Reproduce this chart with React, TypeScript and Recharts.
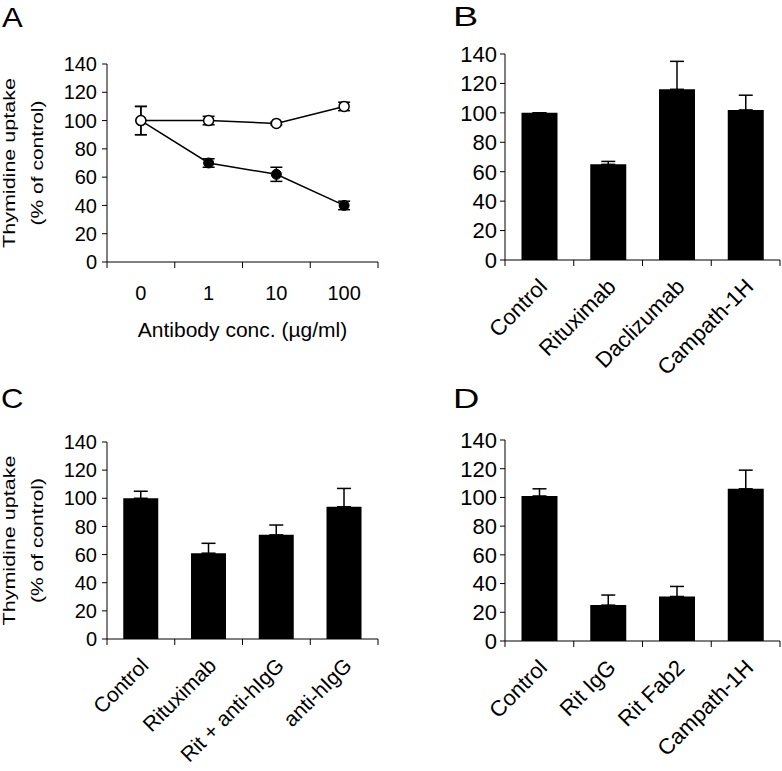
import React from "react";
import {
  BarChart,
  Bar,
  ComposedChart,
  Line,
  XAxis,
  YAxis,
  ErrorBar,
} from "recharts";

// ---------------------------------------------------------------------------
// Data
// ---------------------------------------------------------------------------

const yTicks = [0, 20, 40, 60, 80, 100, 120, 140];

// A: thymidine uptake vs antibody concentration
const concLabels = ["0", "1", "10", "100"];
const openMean = [100, 100, 98, 110];
const openErr = [10, 3, 1, 3];
const filledMean = [100, 70, 62, 40];
const filledErr = [10, 3, 5, 3];

// B
const bLabels = ["Control", "Rituximab", "Daclizumab", "Campath-1H"];
const bMean = [100, 65, 116, 102];
const bErr = [0, 2, 19, 10];

// C
const cLabels = ["Control", "Rituximab", "Rit + anti-hIgG", "anti-hIgG"];
const cMean = [100, 61, 74, 94];
const cErr = [5, 7, 7, 13];

// D
const dLabels = ["Control", "Rit IgG", "Rit Fab2", "Campath-1H"];
const dMean = [101, 25, 31, 106];
const dErr = [5, 7, 7, 13];

const yTitle = ["Thymidine uptake", "(% of control)"];
const xTitleA = "Antibody conc. (µg/ml)";

// ---------------------------------------------------------------------------
// Helpers
// ---------------------------------------------------------------------------

const FONT = '"Liberation Sans", Arial, Helvetica, sans-serif';
const Y_AXIS_W = 60;

// category tick: marks on the band edges, label in the middle
function boundaryTick(step: number, lastLabel: string, fontSize: number, rotated: boolean) {
  return function Tick(props: any) {
    const { x, y, payload } = props;
    const v = String(payload.value);
    const lx = x - step / 2;
    const rx = x + step / 2;
    const ax = x + 9;
    const ay = y + 28;
    return (
      <g>
        <line x1={lx} y1={y} x2={lx} y2={y + 6} stroke="#000" />
        {v === lastLabel && <line x1={rx} y1={y} x2={rx} y2={y + 6} stroke="#000" />}
        {rotated ? (
          <text
            x={ax}
            y={ay}
            transform={`rotate(-45 ${ax} ${ay})`}
            textAnchor="end"
            fontSize={fontSize}
            fontFamily={FONT}
            fill="#000"
          >
            {v}
          </text>
        ) : (
          <text x={x} y={y + 38} textAnchor="middle" fontSize={fontSize} fontFamily={FONT} fill="#000">
            {v}
          </text>
        )}
      </g>
    );
  };
}

function yTitleLabel(cy: number) {
  return function YTitle() {
    return (
      <g fontFamily={FONT} fontSize={17} fill="#000">
        <text
          x={15}
          y={cy}
          textAnchor="middle"
          textLength={170}
          lengthAdjust="spacingAndGlyphs"
          transform={`rotate(-90 15 ${cy})`}
        >
          {yTitle[0]}
        </text>
        <text
          x={43}
          y={cy}
          textAnchor="middle"
          textLength={125}
          lengthAdjust="spacingAndGlyphs"
          transform={`rotate(-90 43 ${cy})`}
        >
          {yTitle[1]}
        </text>
      </g>
    );
  };
}

type Margin = { top: number; right: number; bottom: number; left: number };

// ---------------------------------------------------------------------------
// Panel A
// ---------------------------------------------------------------------------

function PanelA() {
  const width = 390;
  const height = 380;
  const margin = { top: 64, right: 12, bottom: 58, left: 47 };
  const step = (width - margin.left - margin.right - Y_AXIS_W) / concLabels.length;
  const rows = concLabels.map((name, i) => ({
    name,
    open: openMean[i],
    openErr: openErr[i],
    filled: filledMean[i],
    filledErr: filledErr[i],
  }));
  const plotBottom = height - margin.bottom - 60;
  const cx = margin.left + Y_AXIS_W + (width - margin.left - margin.right - Y_AXIS_W) / 2;
  const cy = (margin.top + plotBottom) / 2;

  return (
    <div style={{ position: "absolute", left: 0, top: 0 }}>
      <ComposedChart width={width} height={height} data={rows} margin={margin}>
        <XAxis
          dataKey="name"
          scale="band"
          height={60}
          interval={0}
          tickSize={0}
          tickMargin={0}
          tickLine={false}
          axisLine={{ stroke: "#000" }}
          tick={boundaryTick(step, concLabels[concLabels.length - 1], 20, false)}
          label={() => (
            <text x={cx} y={plotBottom + 75} textAnchor="middle" fontSize={21} fontFamily={FONT} fill="#000">
              {xTitleA}
            </text>
          )}
        />
        <XAxis
          xAxisId="top"
          orientation="top"
          dataKey="name"
          height={0}
          tick={false}
          tickLine={false}
          axisLine={{ stroke: "#333" }}
        />
        <YAxis
          width={Y_AXIS_W}
          domain={[0, 140]}
          ticks={yTicks}
          interval={0}
          allowDataOverflow
          tickSize={5}
          tickMargin={5}
          axisLine={{ stroke: "#000" }}
          tickLine={{ stroke: "#000" }}
          tick={{ fill: "#000", fontSize: 20, fontFamily: FONT }}
          label={yTitleLabel(cy)}
        />
        <YAxis
          yAxisId="right"
          orientation="right"
          width={0}
          domain={[0, 140]}
          tick={false}
          tickLine={false}
          axisLine={{ stroke: "#333" }}
        />
        <Line
          dataKey="filled"
          stroke="#000"
          strokeWidth={1.5}
          dot={{ r: 5, fill: "#000", stroke: "#000", strokeWidth: 1 }}
          activeDot={false}
          isAnimationActive={false}
        >
          <ErrorBar dataKey="filledErr" direction="y" width={6} stroke="#000" strokeWidth={1.5} isAnimationActive={false} />
        </Line>
        <Line
          dataKey="open"
          stroke="#000"
          strokeWidth={1.5}
          dot={{ r: 5, fill: "#fff", stroke: "#000", strokeWidth: 1.5 }}
          activeDot={false}
          isAnimationActive={false}
        >
          <ErrorBar dataKey="openErr" direction="y" width={6} stroke="#000" strokeWidth={1.5} isAnimationActive={false} />
        </Line>
      </ComposedChart>
    </div>
  );
}

// ---------------------------------------------------------------------------
// Bar panels (B, C, D)
// ---------------------------------------------------------------------------

function BarPanel({
  labels,
  mean,
  err,
  left,
  top,
  width,
  height,
  margin,
  xAxisH,
  tickFont,
  tickGap,
  labelFont,
  withTitle,
}: {
  labels: string[];
  mean: number[];
  err: number[];
  left: number;
  top: number;
  width: number;
  height: number;
  margin: Margin;
  xAxisH: number;
  tickFont: number;
  tickGap: number;
  labelFont: number;
  withTitle?: boolean;
}) {
  const step = (width - margin.left - margin.right - Y_AXIS_W) / labels.length;
  const rows = labels.map((name, i) => ({ name, mean: mean[i], err: [0, err[i]] }));
  const plotBottom = height - margin.bottom - xAxisH;
  const cy = (margin.top + plotBottom) / 2;

  return (
    <div style={{ position: "absolute", left, top }}>
      <BarChart width={width} height={height} data={rows} margin={margin} barCategoryGap="24%">
        <XAxis
          dataKey="name"
          height={xAxisH}
          interval={0}
          tickSize={0}
          tickMargin={0}
          tickLine={false}
          axisLine={{ stroke: "#000" }}
          tick={boundaryTick(step, labels[labels.length - 1], labelFont, true)}
        />
        <XAxis
          xAxisId="top"
          orientation="top"
          dataKey="name"
          height={0}
          tick={false}
          tickLine={false}
          axisLine={{ stroke: "#333" }}
        />
        <YAxis
          width={Y_AXIS_W}
          domain={[0, 140]}
          ticks={yTicks}
          interval={0}
          allowDataOverflow
          tickSize={5}
          tickMargin={tickGap}
          axisLine={{ stroke: "#000" }}
          tickLine={{ stroke: "#000" }}
          tick={{ fill: "#000", fontSize: tickFont, fontFamily: FONT }}
          label={withTitle ? yTitleLabel(cy) : undefined}
        />
        <YAxis
          yAxisId="right"
          orientation="right"
          width={0}
          domain={[0, 140]}
          tick={false}
          tickLine={false}
          axisLine={{ stroke: "#333" }}
        />
        <Bar dataKey="mean" fill="#000" isAnimationActive={false}>
          <ErrorBar dataKey="err" direction="y" width={7} stroke="#000" strokeWidth={1.5} isAnimationActive={false} />
        </Bar>
      </BarChart>
    </div>
  );
}

// ---------------------------------------------------------------------------
// Page
// ---------------------------------------------------------------------------

const letterPos = [
  { x: 2, y: 27, sx: 1.15 },
  { x: 453, y: 26, sx: 1.4 },
  { x: 1, y: 408, sx: 1.15 },
  { x: 453, y: 408, sx: 1.35 },
];

export default function App() {
  return (
    <div
      style={{
        position: "absolute",
        left: 0,
        top: 0,
        width: 782,
        height: 771,
        background: "#fff",
        overflow: "hidden",
        fontFamily: FONT,
      }}
    >
      <PanelA />
      <BarPanel
        labels={bLabels}
        mean={bMean}
        err={bErr}
        left={400}
        top={0}
        width={382}
        height={390}
        margin={{ top: 54, right: 2, bottom: 30, left: 45 }}
        xAxisH={100}
        tickFont={22}
        tickGap={3}
        labelFont={22}
      />
      <BarPanel
        labels={cLabels}
        mean={cMean}
        err={cErr}
        left={0}
        top={380}
        width={390}
        height={391}
        margin={{ top: 62, right: 12, bottom: 22, left: 47 }}
        xAxisH={110}
        tickFont={20}
        tickGap={5}
        labelFont={21}
        withTitle
      />
      <BarPanel
        labels={dLabels}
        mean={dMean}
        err={dErr}
        left={400}
        top={380}
        width={382}
        height={391}
        margin={{ top: 60, right: 2, bottom: 20, left: 45 }}
        xAxisH={110}
        tickFont={22}
        tickGap={3}
        labelFont={22}
      />
      <svg
        width={782}
        height={771}
        style={{ position: "absolute", left: 0, top: 0, pointerEvents: "none" }}
      >
        {panelLetters.map((l, i) => (
          <text
            key={l}
            transform={`translate(${letterPos[i].x} ${letterPos[i].y}) scale(${letterPos[i].sx} 1)`}
            fontSize={27}
            fontFamily={FONT}
            fill="#000"
          >
            {l}
          </text>
        ))}
      </svg>
    </div>
  );
}

const panelLetters = ["A", "B", "C", "D"];
